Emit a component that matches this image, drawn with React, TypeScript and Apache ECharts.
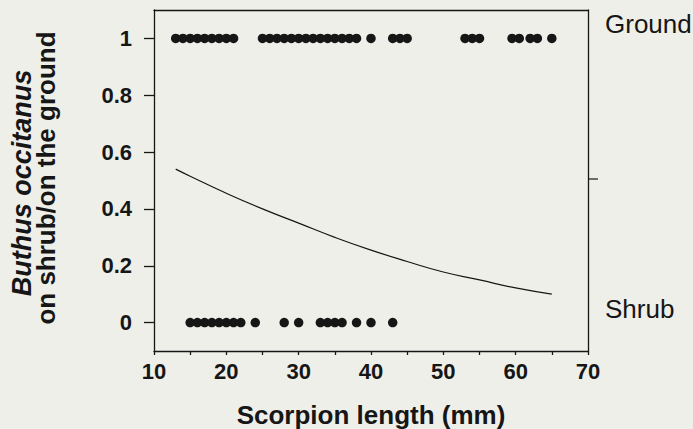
import React, { useEffect, useRef } from "react";
import * as echarts from "echarts";

const groundLengths = [13, 14, 15, 16, 17, 18, 19, 20, 21, 25, 26, 27, 28, 29, 30, 31, 32, 33, 34, 35, 36, 37, 38, 40, 43, 44, 45, 53, 54, 55, 59.5, 60.5, 62, 63, 65];
const shrubLengths = [15, 16, 17, 18, 19, 20, 21, 22, 24, 28, 30, 33, 34, 35, 36, 38, 40, 43];
const curveX = [13, 15, 20, 25, 30, 35, 40, 45, 50, 55, 60, 65];
const curveY = [0.54, 0.515, 0.455, 0.4, 0.35, 0.3, 0.255, 0.215, 0.178, 0.15, 0.122, 0.1];
const yTickValues = [0, 0.2, 0.4, 0.6, 0.8, 1];
const xTickLabels = [10, 20, 30, 40, 50, 60, 70];
const sideLabels = ["Ground", "Shrub"];

const FONT = "'Liberation Sans', Arial, Helvetica, sans-serif";
const INK = "#161616";

export default function App() {
  const ref = useRef<HTMLDivElement>(null);
  useEffect(() => {
    document.body.style.margin = "0";
    const chart = echarts.init(ref.current!, null, { renderer: "svg" });
    chart.setOption({
      animation: false,
      backgroundColor: "#efefe9",
      grid: { left: 154, right: 105, top: 10, bottom: 78, show: false },
      xAxis: [
        {
          type: "value",
          min: 10,
          max: 70,
          interval: 5,
          axisLine: { show: true, onZero: false, lineStyle: { color: INK, width: 1.3 } },
          axisTick: { show: true, length: 4, lineStyle: { color: INK, width: 1.3 } },
          splitLine: { show: false },
          axisLabel: {
            margin: 9,
            color: INK,
            fontFamily: FONT,
            fontWeight: "bold",
            fontSize: 22,
            formatter: (v: number) => (xTickLabels.includes(v) ? String(v) : ""),
          },
        },
        {
          type: "value",
          position: "top",
          min: 10,
          max: 70,
          axisLine: { show: true, onZero: false, lineStyle: { color: INK, width: 1.3 } },
          axisTick: { show: false },
          axisLabel: { show: false },
          splitLine: { show: false },
        },
      ],
      yAxis: [
        {
          type: "value",
          min: -0.1,
          max: 1.1,
          axisLine: { show: true, onZero: false, lineStyle: { color: INK, width: 1.3 } },
          axisTick: { show: true, length: 10, customValues: yTickValues, lineStyle: { color: INK, width: 1.3 } },
          splitLine: { show: false },
          axisLabel: {
            customValues: yTickValues,
            margin: 22,
            color: INK,
            fontFamily: FONT,
            fontWeight: "bold",
            fontSize: 22,
            formatter: (v: number) => String(Math.round(v * 10) / 10),
          },
        },
        {
          type: "value",
          position: "right",
          min: -0.1,
          max: 1.1,
          axisLine: { show: true, onZero: false, lineStyle: { color: INK, width: 1.3 } },
          axisTick: { show: false },
          axisLabel: { show: false },
          splitLine: { show: false },
        },
      ],
      series: [
        {
          type: "scatter",
          symbol: "circle",
          symbolSize: 9.5,
          itemStyle: { color: INK, opacity: 1 },
          data: groundLengths.map((x) => [x, 1]),
        },
        {
          type: "scatter",
          symbol: "circle",
          symbolSize: 9.5,
          itemStyle: { color: INK, opacity: 1 },
          data: shrubLengths.map((x) => [x, 0]),
        },
        {
          type: "line",
          smooth: true,
          showSymbol: false,
          lineStyle: { color: INK, width: 1.2 },
          data: curveX.map((x, i) => [x, curveY[i]]),
        },
      ],
      graphic: [
        {
          type: "text",
          x: 605,
          y: 24,
          style: { text: sideLabels[0], fontFamily: FONT, fontSize: 26, fill: INK, align: "left", verticalAlign: "middle" },
        },
        {
          type: "text",
          x: 605,
          y: 309,
          style: { text: sideLabels[1], fontFamily: FONT, fontSize: 26, fill: INK, align: "left", verticalAlign: "middle" },
        },
        {
          type: "line",
          shape: { x1: 588, y1: 179, x2: 598, y2: 179 },
          style: { stroke: INK, lineWidth: 1.2 },
        },
        {
          type: "text",
          x: 371,
          y: 415,
          style: { text: "Scorpion length (mm)", fontFamily: FONT, fontWeight: "bold", fontSize: 26, fill: INK, align: "center", verticalAlign: "middle" },
        },
        {
          type: "text",
          x: 22,
          y: 183,
          rotation: Math.PI / 2,
          style: { text: "Buthus occitanus", fontFamily: FONT, fontWeight: "bold", fontStyle: "italic", fontSize: 27, fill: INK, align: "center", verticalAlign: "middle" },
        },
        {
          type: "text",
          x: 46,
          y: 178,
          rotation: Math.PI / 2,
          style: { text: "on shrub/on the ground", fontFamily: FONT, fontWeight: "bold", fontSize: 26, fill: INK, align: "center", verticalAlign: "middle" },
        },
      ],
    });
    return () => chart.dispose();
  }, []);
  return <div ref={ref} style={{ width: 693, height: 429 }} />;
}
